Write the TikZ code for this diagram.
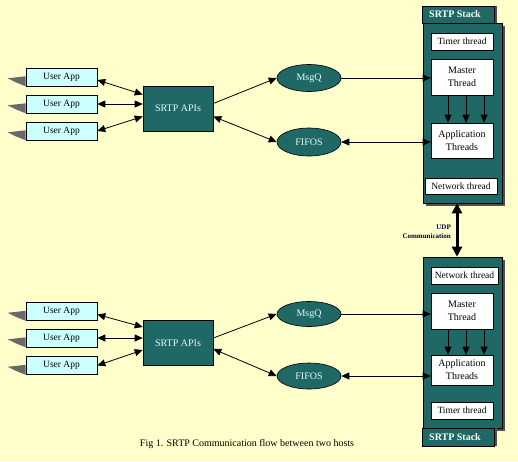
\documentclass[tikz,border=0pt]{standalone}
\usepackage{fontspec}
\setmainfont{Liberation Serif}
\usetikzlibrary{arrows.meta,shapes.geometric,calc,shadows}
\definecolor{bg}{RGB}{255,255,204}
\definecolor{tealbox}{RGB}{31,104,102}
\definecolor{appcyan}{RGB}{204,255,255}
\definecolor{lighttxt}{RGB}{225,250,250}
\definecolor{appshadow}{RGB}{105,105,105}
\definecolor{boxshadow}{RGB}{80,80,80}
\definecolor{udpnavy}{RGB}{0,0,51}
\begin{document}
\begin{tikzpicture}[x=1pt,y=-1pt,
  userapp/.style={draw=black, line width=0.6pt, fill=appcyan, minimum width=71pt, minimum height=18pt, inner sep=0pt, font=\fontsize{9.5}{11}\selectfont},
  apibox/.style={draw=black, line width=0.6pt, fill=tealbox, text=lighttxt, minimum width=70pt, minimum height=45pt, inner sep=0pt, font=\fontsize{10}{12}\selectfont},
  queue/.style={ellipse, draw=black, line width=0.6pt, fill=tealbox, text=lighttxt, minimum width=64pt, minimum height=27pt, inner sep=0pt, font=\fontsize{10}{12}\selectfont},
  thread/.style={draw=black, line width=0.6pt, fill=white, inner sep=0pt, align=center, minimum width=62pt, font=\fontsize{9.5}{12.5}\selectfont},
  bigthread/.style={thread, font=\fontsize{10}{13}\selectfont},
  stackbox/.style={draw=black, line width=0.6pt, fill=tealbox, minimum width=79pt, inner sep=0pt, drop shadow={shadow xshift=3pt, shadow yshift=-3pt, opacity=1, fill=boxshadow}},
  tabbox/.style={draw=black, line width=0.6pt, fill=tealbox, text=white, minimum width=72pt, inner sep=0pt, font=\bfseries\fontsize{10}{12}\selectfont, drop shadow={shadow xshift=3pt, shadow yshift=0pt, opacity=1, fill=boxshadow}},
  arr/.style={line width=0.8pt, -{Triangle[length=8pt,width=7pt]}},
  darr/.style={line width=0.8pt, {Triangle[length=8pt,width=7pt]}-{Triangle[length=8pt,width=7pt]}},
  udparr/.style={line width=3pt, {Triangle[length=10pt,width=10pt]}-{Triangle[length=10pt,width=10pt]}},
  appshade/.style={fill=appshadow}
]
\path[fill=bg] (0,0) rectangle (518,461);

% ---------------- top host ----------------
\node[stackbox, minimum height=180pt] (stack1) at (462.5,113) {};
\node[tabbox, minimum height=17pt] (tab1) at (458,14.5) {\hspace*{-6pt}SRTP Stack};
\node[thread, minimum height=17pt] (timer1) at (462,41.5) {Timer thread};
\node[bigthread, minimum height=36pt] (master1) at (462,77) {Master\\Thread};
\node[bigthread, minimum height=35pt] (app1) at (462,140.5) {Application\\Threads};
\node[thread, minimum width=72pt, minimum height=16pt] (net1) at (461,186) {Network thread};

\node[userapp] (ua1) at (61.5,77) {User App};
\node[userapp] (ua2) at (61.5,104) {User App};
\node[userapp] (ua3) at (61.5,131) {User App};
\node[apibox] (api1) at (178,108.5) {SRTP APIs};
\node[queue] (msgq1) at (309,78) {MsgQ};
\node[queue, minimum height=28pt] (fifos1) at (309,142) {FIFOS};

\foreach \u in {ua1,ua2,ua3}{
  \fill[appshade] ($(\u.south west)+(-18,-8)$) -- ($(\u.south west)+(0,-10)$) -- (\u.south west) -- ($(\u.south west)+(-10,-4)$) -- cycle;
}

\draw[darr] ([yshift=-3pt]ua1.east) -- ([yshift=14pt]api1.west);
\draw[darr] (ua2.east) -- (ua2.east -| api1.west);
\draw[darr] (ua3.east) -- ([yshift=-8pt]api1.west);
\draw[arr] ([yshift=5pt]api1.east) -- (msgq1.west);
\draw[darr] ([yshift=-8pt]api1.east) -- (fifos1.west);
\draw[arr] (msgq1.east) -- (msgq1.east -| master1.west);
\draw[darr] (fifos1.east) -- (fifos1.east -| app1.west);
\foreach \dx in {-14,4,22}{
  \draw[arr] ([xshift=\dx pt]master1.south) -- ([xshift=\dx pt]app1.north);
}

% ---------------- bottom host ----------------
\node[stackbox, minimum height=171pt] (stack2) at (462.5,342.5) {};
\node[tabbox, minimum height=18pt] (tab2) at (458,437) {\hspace*{-6pt}SRTP Stack};
\node[thread, minimum width=67pt, minimum height=17pt] (net2) at (464.5,275.5) {Network thread};
\node[bigthread, minimum height=36pt] (master2) at (462,311) {Master\\Thread};
\node[bigthread, minimum height=30pt] (app2) at (462,370) {Application\\Threads};
\node[thread, minimum height=17pt] (timer2) at (462,410.5) {Timer thread};

\node[userapp] (ub1) at (61.5,311.5) {User App};
\node[userapp] (ub2) at (61.5,338) {User App};
\node[userapp] (ub3) at (61.5,365.5) {User App};
\node[apibox] (api2) at (178,343) {SRTP APIs};
\node[queue, minimum height=25pt] (msgq2) at (309,314) {MsgQ};
\node[queue, minimum height=26pt] (fifos2) at (309,376) {FIFOS};

\foreach \u in {ub1,ub2,ub3}{
  \fill[appshade] ($(\u.south west)+(-18,-8)$) -- ($(\u.south west)+(0,-10)$) -- (\u.south west) -- ($(\u.south west)+(-10,-4)$) -- cycle;
}

\draw[darr] ([yshift=-3pt]ub1.east) -- ([yshift=16pt]api2.west);
\draw[darr] (ub2.east) -- (ub2.east -| api2.west);
\draw[darr] (ub3.east) -- ([yshift=-7pt]api2.west);
\draw[arr] ([yshift=5pt]api2.east) -- (msgq2.west);
\draw[darr] ([yshift=-6pt]api2.east) -- (fifos2.west);
\draw[arr] (msgq2.east) -- (msgq2.east -| master2.west);
\draw[darr] (fifos2.east) -- (fifos2.east -| app2.west);
\foreach \dx in {-14,4,22}{
  \draw[arr] ([xshift=\dx pt]master2.south) -- ([xshift=\dx pt]app2.north);
}

% ---------------- UDP link ----------------
\draw[udparr] ([xshift=-5.5pt]stack1.south) -- ([xshift=-5.5pt]stack2.north);
\node[anchor=east, align=right, inner sep=0pt, text=udpnavy, font=\bfseries\fontsize{7}{9}\selectfont] (udp) at (451,232) {UDP\\Communication};

% ---------------- caption ----------------
\node[font=\fontsize{10}{12}\selectfont, inner sep=0pt] (caption) at (247,444) {Fig 1. SRTP Communication flow between two hosts};
\end{tikzpicture}
\end{document}
